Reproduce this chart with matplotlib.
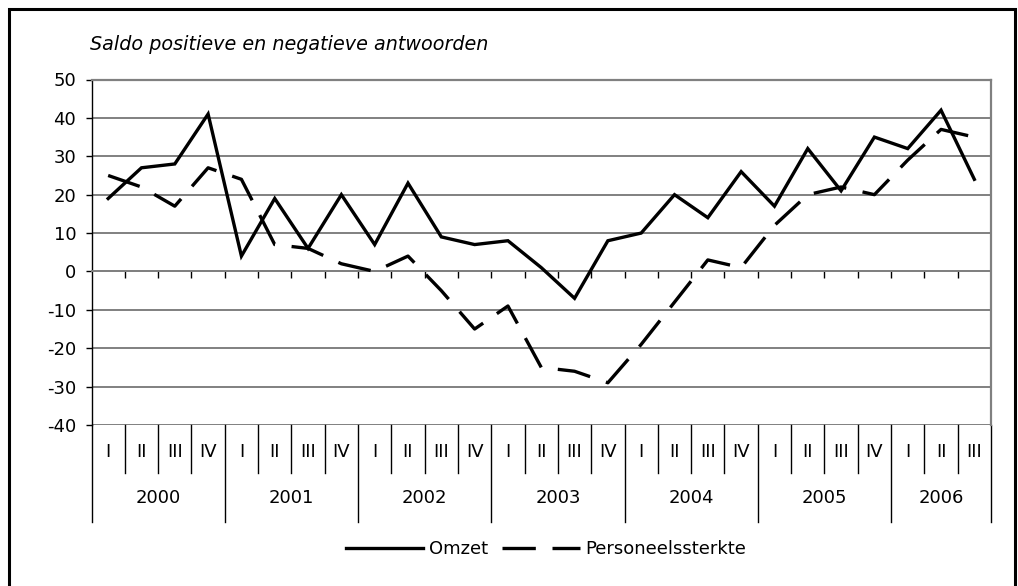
import numpy as np
import matplotlib.pyplot as plt
import matplotlib.transforms as mtransforms
from matplotlib.lines import Line2D
from matplotlib.patches import Rectangle

# --- data ---
quarters = ["I", "II", "III", "IV"] * 6 + ["I", "II", "III"]
years = ["2000", "2001", "2002", "2003", "2004", "2005", "2006"]
quarters_per_year = [4, 4, 4, 4, 4, 4, 3]
omzet = [19, 27, 28, 41, 4, 19, 6, 20, 7, 23, 9, 7, 8, 1, -7, 8, 10, 20, 14,
         26, 17, 32, 21, 35, 32, 42, 24]
personeel = [25, 22, 17, 27, 24, 7, 6, 2, 0, 4, -5, -15, -9, -25, -26, -29, -19,
             -8, 3, 1, 12, 20, 22, 20, 29, 37, 35]

W, H = 1018, 586
plt.rcParams["font.family"] = ["DejaVu Sans"]
plt.rcParams["axes.unicode_minus"] = False
FS = 13
fig = plt.figure(figsize=(W / 100, H / 100), dpi=100)

# plot area in pixels
left, right, top, bottom = 91.5, 991, 79.5, 425
ax = fig.add_axes([left / W, 1 - bottom / H, (right - left) / W, (bottom - top) / H])

x = np.arange(len(omzet))
ax.plot(x, omzet, color="black", lw=2.4, solid_joinstyle="miter", label="Omzet", zorder=3)
ax.plot(x, personeel, color="black", lw=2.4, linestyle=(0, (10, 5)),
        label="Personeelssterkte", zorder=3)

ax.set_xlim(-0.5, len(omzet) - 0.5)
ax.set_ylim(-40, 50)
ax.set_yticks(range(-40, 51, 10))
ax.tick_params(axis="y", labelsize=FS, length=4.5, width=1, pad=6.5, color="black")
ax.yaxis.grid(True, color="#808080", lw=1.4)
ax.set_axisbelow(True)

# category axis crosses at 0
ax.spines["bottom"].set_position(("data", 0))
ax.spines["bottom"].set_color("#808080")
ax.spines["bottom"].set_linewidth(1.4)
ax.set_xticks(np.arange(0.5, len(omzet) - 1, 1))
ax.tick_params(axis="x", direction="out", length=5, width=1, color="black",
               labelbottom=False)
ax.spines["left"].set_color("black")
ax.spines["left"].set_linewidth(1.0)
for s in ("top", "right"):
    ax.spines[s].set_color("#808080")
    ax.spines[s].set_linewidth(1.6)

# category label table below the plot
trans = mtransforms.blended_transform_factory(ax.transData, fig.transFigure)
fy = lambda py: 1 - py / H
q_bottom, y_bottom = 473, 522
pos = -0.5
for yr, n in zip(years, quarters_per_year):
    ax.add_line(Line2D([pos, pos], [fy(bottom), fy(y_bottom)], transform=trans,
                       color="black", lw=1, clip_on=False))
    for k in range(1, n):
        ax.add_line(Line2D([pos + k, pos + k], [fy(bottom), fy(q_bottom)],
                           transform=trans, color="black", lw=1, clip_on=False))
    ax.text(pos + n / 2, fy(498), yr, transform=trans, ha="center", va="center",
            fontsize=FS)
    pos += n
ax.add_line(Line2D([pos, pos], [fy(bottom), fy(y_bottom)], transform=trans,
                   color="black", lw=1, clip_on=False))
for i, q in enumerate(quarters):
    ax.text(i, fy(452), q, transform=trans, ha="center", va="center", fontsize=FS)

fig.text(90 / W, fy(45), "Saldo positieve en negatieve antwoorden", style="italic",
         fontsize=13.8, ha="left", va="center")

fig.legend(loc="center", bbox_to_anchor=(546 / W, fy(549)), ncol=2, frameon=False,
           fontsize=FS, handlelength=4.3, handletextpad=0.3, columnspacing=0.8)

# outer frame
fig.add_artist(Rectangle((9 / W, fy(592)), (1015 - 9) / W, (592 - 9) / H,
                         transform=fig.transFigure, fill=False, ec="black", lw=2.2))

fig.savefig("out.png", dpi=100)
